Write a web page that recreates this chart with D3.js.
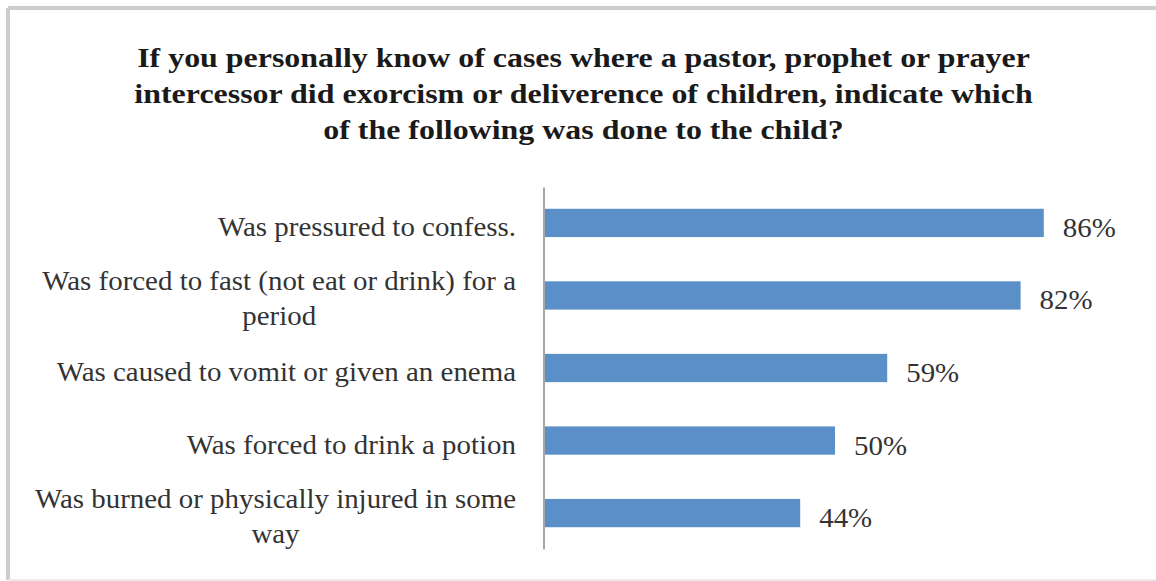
<!DOCTYPE html>
<html>
<head>
<meta charset="utf-8">
<script src="https://cdn.jsdelivr.net/npm/d3@7"></script>
<style>
  body { margin: 0; background: #fff; }
</style>
</head>
<body>
<script>
// chart data
const titleLines = [
  "If you personally know of cases where a pastor, prophet or prayer",
  "intercessor did exorcism or deliverence of children, indicate which",
  "of the following was done to the child?"
];
const categories = [
  ["Was pressured to confess."],
  ["Was forced to fast (not eat or drink) for a", "period"],
  ["Was caused to vomit or given an enema"],
  ["Was forced to drink a potion"],
  ["Was burned or physically injured in some", "way"]
];
const values = [86, 82, 59, 50, 44];

const width = 1156, height = 581;
const serif = "'Liberation Serif', 'Times New Roman', 'DejaVu Serif', serif";

const svg = d3.select('body')
  .append('svg')
  .attr('width', width)
  .attr('height', height)
  .attr('font-family', serif);

// frame (left + top heavy, bottom light)
svg.append('line').attr('x1', 8).attr('y1', 8).attr('x2', width).attr('y2', 8)
  .attr('stroke', '#cdcdcd').attr('stroke-width', 4);
svg.append('line').attr('x1', 8).attr('y1', 8).attr('x2', 8).attr('y2', 580)
  .attr('stroke', '#cdcdcd').attr('stroke-width', 4);
svg.append('line').attr('x1', 8).attr('y1', 580).attr('x2', width).attr('y2', 580)
  .attr('stroke', '#ececec').attr('stroke-width', 2);

// title (the original picture is stretched sideways a bit)
const titleG = svg.append('g');
const title = titleG.append('text')
  .attr('text-anchor', 'middle')
  .attr('font-weight', 'bold')
  .attr('font-size', 27)
  .attr('fill', '#1a1a1a');
title.selectAll('tspan')
  .data(titleLines)
  .enter()
  .append('tspan')
  .attr('x', 0)
  .attr('y', (d, i) => 67 + i * 36)
  .text(d => d);
const tW = title.select('tspan').node().getComputedTextLength();
titleG.attr('transform', `translate(583.5,0) scale(${893 / tW},1)`);

const x = d3.scaleLinear()
  .domain([0, 100])
  .range([545, 1125]);

const y = d3.scaleBand()
  .domain(d3.range(values.length))
  .range([187, 549])
  .paddingInner(0.61)
  .paddingOuter(0.3);

// bars
svg.selectAll('rect.bar')
  .data(values)
  .enter()
  .append('rect')
  .attr('class', 'bar')
  .attr('x', x(0))
  .attr('y', (d, i) => y(i))
  .attr('width', d => x(d) - x(0))
  .attr('height', y.bandwidth())
  .attr('fill', '#5b8fc7');

// horizontal stretch for the body text, from the first label's width
const labelSize = 27;
const probe = svg.append('text').attr('font-size', labelSize).text(categories[0][0]);
const sx = 298 / probe.node().getComputedTextLength();
probe.remove();

// value labels
svg.selectAll('g.val')
  .data(values)
  .enter()
  .append('g')
  .attr('class', 'val')
  .attr('transform', (d, i) => `translate(${x(d) + 19},${y(i) + y.bandwidth() / 2 + 14}) scale(${sx},1)`)
  .append('text')
  .attr('font-size', labelSize)
  .attr('fill', '#333')
  .text(d => d + '%');

// category labels, right aligned at 516, wrapped lines centred in block
const lineH = 35;
svg.selectAll('g.cat')
  .data(categories)
  .enter()
  .append('g')
  .attr('class', 'cat')
  .attr('transform', (d, i) => `translate(516,${y(i) + y.bandwidth() / 2}) scale(${sx},1)`)
  .each(function(lines) {
    const t = d3.select(this).append('text')
      .attr('text-anchor', 'middle')
      .attr('font-size', labelSize)
      .attr('fill', '#333');
    const first = lines.length > 1 ? -5 : 13;
    const spans = lines.map((s, j) =>
      t.append('tspan').text(s).attr('y', first + j * lineH));
    const w = d3.max(spans, s => s.node().getComputedTextLength());
    spans.forEach(s => s.attr('x', -w / 2));
  });

// axis line
svg.append('g')
  .attr('transform', `translate(${x(0) - 1.5},0)`)
  .call(d3.axisLeft(y).tickSize(0).tickFormat(''))
  .call(g => g.select('.domain').attr('stroke', '#8a8a8a').attr('stroke-width', 1.5));
</script>
</body>
</html>
